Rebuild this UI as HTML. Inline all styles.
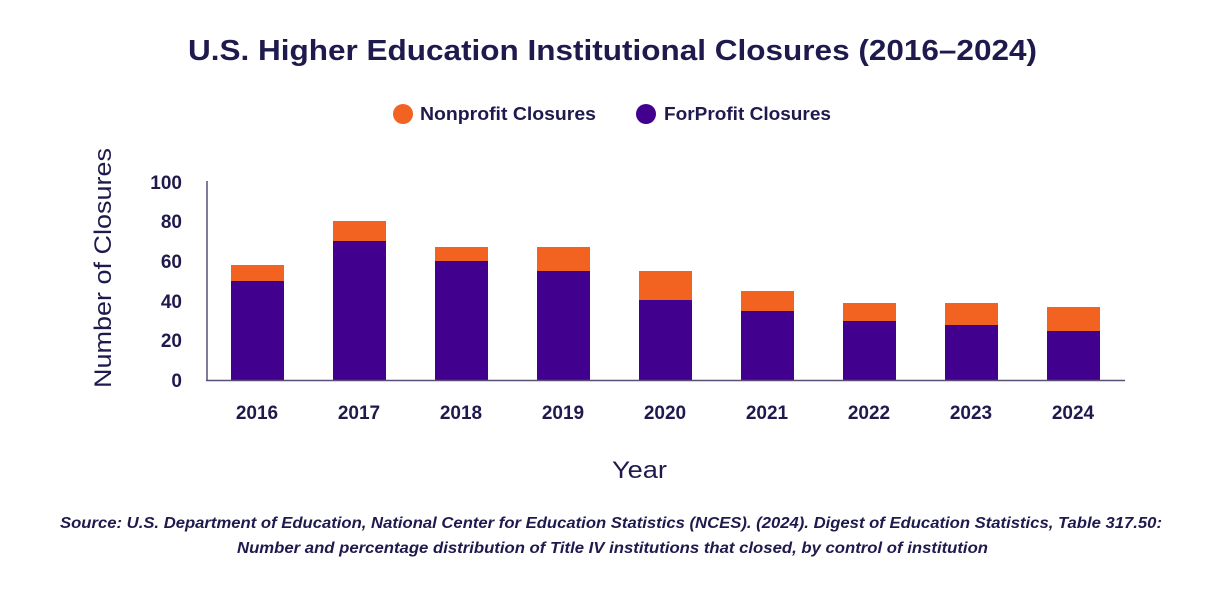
<!DOCTYPE html>
<html><head><meta charset="utf-8"><style>
body{margin:0;background:#fff;}
svg{display:block;font-family:"Liberation Sans",sans-serif;}
</style></head><body>
<svg width="1225" height="594" viewBox="0 0 1225 594" xmlns="http://www.w3.org/2000/svg">
<text x="188" y="60" textLength="849" lengthAdjust="spacingAndGlyphs" font-size="29" font-weight="bold" fill="#1f1a4d">U.S. Higher Education Institutional Closures (2016–2024)</text>
<circle cx="403" cy="114" r="10" fill="#f26322"/>
<text x="420" y="120" textLength="176" lengthAdjust="spacingAndGlyphs" font-size="18" font-weight="bold" fill="#1f1a4d">Nonprofit Closures</text>
<circle cx="646" cy="114" r="10" fill="#42008f"/>
<text x="664" y="120" textLength="167" lengthAdjust="spacingAndGlyphs" font-size="18" font-weight="bold" fill="#1f1a4d">ForProfit Closures</text>
<g font-size="19" font-weight="bold" fill="#1f1a4d" text-anchor="end">
<text x="182" y="189">100</text><text x="182" y="228">80</text><text x="182" y="268">60</text>
<text x="182" y="308">40</text><text x="182" y="347">20</text><text x="182" y="387">0</text>
</g>
<text transform="translate(111,268) rotate(-90)" text-anchor="middle" textLength="240" lengthAdjust="spacingAndGlyphs" font-size="24" fill="#1f1a4d">Number of Closures</text>
<g id="bars">
<rect x="231" y="265" width="53" height="16" fill="#f26322"/><rect x="231" y="281" width="53" height="99" fill="#42008f"/>
<rect x="333" y="221" width="53" height="20" fill="#f26322"/><rect x="333" y="241" width="53" height="139" fill="#42008f"/>
<rect x="435" y="247" width="53" height="14" fill="#f26322"/><rect x="435" y="261" width="53" height="119" fill="#42008f"/>
<rect x="537" y="247" width="53" height="24" fill="#f26322"/><rect x="537" y="271" width="53" height="109" fill="#42008f"/>
<rect x="639" y="271" width="53" height="29" fill="#f26322"/><rect x="639" y="300" width="53" height="80" fill="#42008f"/>
<rect x="741" y="291" width="53" height="20" fill="#f26322"/><rect x="741" y="311" width="53" height="69" fill="#42008f"/>
<rect x="843" y="303" width="53" height="18" fill="#f26322"/><rect x="843" y="321" width="53" height="59" fill="#42008f"/>
<rect x="945" y="303" width="53" height="22" fill="#f26322"/><rect x="945" y="325" width="53" height="55" fill="#42008f"/>
<rect x="1047" y="307" width="53" height="24" fill="#f26322"/><rect x="1047" y="331" width="53" height="49" fill="#42008f"/>
</g>
<line x1="207" y1="181" x2="207" y2="380.5" stroke="#5a4f7a" stroke-width="1.5"/>
<line x1="206" y1="380.5" x2="1125" y2="380.5" stroke="#5a4f7a" stroke-width="1.5"/>
<g font-size="19" font-weight="bold" fill="#1f1a4d" text-anchor="middle">
<text x="257" y="419">2016</text><text x="359" y="419">2017</text><text x="461" y="419">2018</text>
<text x="563" y="419">2019</text><text x="665" y="419">2020</text><text x="767" y="419">2021</text>
<text x="869" y="419">2022</text><text x="971" y="419">2023</text><text x="1073" y="419">2024</text>
</g>
<text x="612" y="478" textLength="55" lengthAdjust="spacingAndGlyphs" font-size="24" fill="#1f1a4d">Year</text>
<g font-size="16" font-style="italic" font-weight="bold" fill="#1f1a4d">
<text x="60" y="528" textLength="1102" lengthAdjust="spacingAndGlyphs">Source: U.S. Department of Education, National Center for Education Statistics (NCES). (2024). Digest of Education Statistics, Table 317.50:</text>
<text x="237" y="553" textLength="751" lengthAdjust="spacingAndGlyphs">Number and percentage distribution of Title IV institutions that closed, by control of institution</text>
</g>
</svg>
</body></html>
